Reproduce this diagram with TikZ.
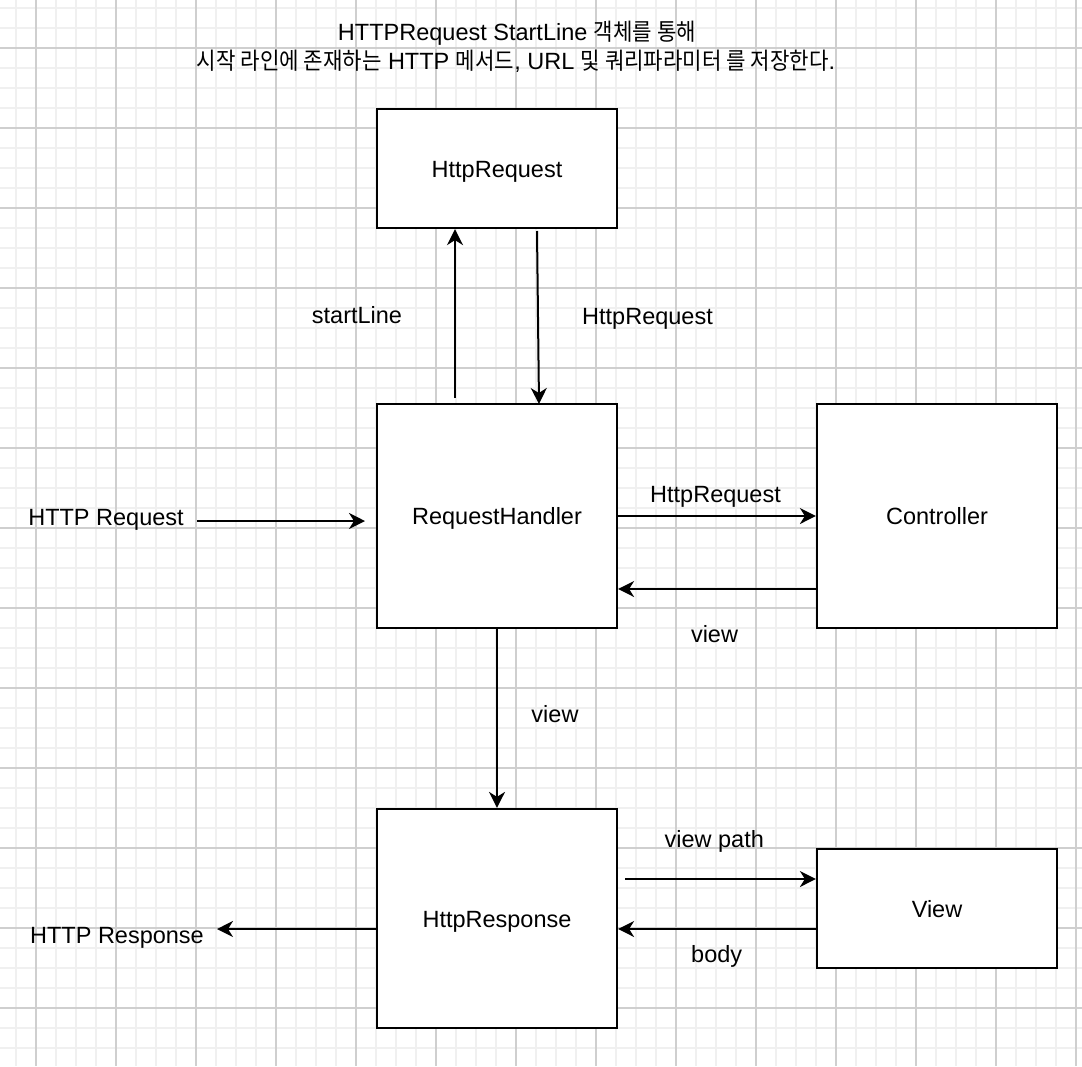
\documentclass[tikz,border=0pt]{standalone}
\usepackage{fontspec}
\setmainfont{Liberation Sans}
\newfontfamily\cjk[FakeStretch=0.9]{Noto Sans CJK KR}
\usetikzlibrary{arrows.meta}
\newcommand{\fsz}{\fontsize{23.5}{28}\selectfont}
\begin{document}
\begin{tikzpicture}[x=1pt,y=-1pt,
  minorgrid/.style={draw=black!6, line width=1.6pt},
  majorgrid/.style={draw=black!19, line width=1.4pt},
  box/.style={draw=black, line width=2.2pt, fill=white, minimum width=240pt, inner sep=0pt, font=\fsz, text height=17pt, text depth=0pt},
  lbl/.style={inner sep=0pt, font=\fsz, text height=17pt, text depth=0pt},
  ttl/.style={inner sep=0pt, font=\fsz, anchor=base},
  arr/.style={line width=2pt, -{Stealth[length=16pt,width=16pt,inset=5pt]}},
  ]
\fill[white] (0,0) rectangle (1082,1066);
\useasboundingbox (0,0) rectangle (1082,1066);
% grid
\foreach \x in {16,36,...,1076} \draw[minorgrid] (\x,0) -- (\x,1066);
\foreach \y in {8,28,...,1064} \draw[minorgrid] (0,\y) -- (1082,\y);
\foreach \x in {36,116,...,1076} \draw[majorgrid] (\x,0) -- (\x,1066);
\foreach \y in {48,128,...,1064} \draw[majorgrid] (0,\y) -- (1082,\y);

% title
\node[ttl] (title1) at (517,40) {HTTPRequest StartLine {\cjk 객체를 통해}};
\node[ttl] (title2) at (516,69) {{\cjk 시작 라인에 존재하는} HTTP {\cjk 메서드}, URL {\cjk 및 쿼리파라미터 를 저장한다}.};

% boxes
\node[box, minimum height=119pt] (hreq) at (497,168.5) {HttpRequest};
\node[box, minimum height=224pt] (rh) at (497,516) {RequestHandler};
\node[box, minimum height=224pt] (ctrl) at (937,516) {Controller};
\node[box, minimum height=219pt] (resp) at (497,918.5) {HttpResponse};
\node[box, minimum height=119pt] (view) at (937,908.5) {View};

% labels
\node[lbl] (lstart) at (357,315) {startLine};
\node[lbl] (lhreq2) at (647.5,315.8) {HttpRequest};
\node[lbl] (lin) at (106,516.5) {HTTP Request};
\node[lbl] (lhreq3) at (715.5,494.2) {HttpRequest};
\node[lbl] (lview1) at (714.5,634.2) {view};
\node[lbl] (lview2) at (555,714.2) {view};
\node[lbl] (lvpath) at (714.3,838.8) {view path};
\node[lbl] (lbody) at (716.7,954.2) {body};
\node[lbl] (lout) at (117,934.8) {HTTP Response};

% connector end points
\coordinate (s1) at (455,398);
\coordinate (s2) at (537,231);
\coordinate (t2) at (539,404);
\coordinate (inA) at (197,521);
\coordinate (inB) at (365,521);
\coordinate (y589) at (0,589);
\coordinate (y929) at (0,929);
\coordinate (outB) at (217,929);
\coordinate (vpA) at (625,879);

% connectors
\draw[arr] (s1) -- (s1 |- hreq.south);
\draw[arr] (s2) -- (t2);
\draw[arr] (inA) -- (inB);
\draw[arr] (rh.east) -- (ctrl.west);
\draw[arr] (ctrl.west |- y589) -- (rh.east |- y589);
\draw[arr] (rh.south) -- (resp.north);
\draw[arr] (resp.west |- y929) -- (outB);
\draw[arr] (vpA) -- (view.west |- vpA);
\draw[arr] (view.west |- y929) -- (resp.east |- y929);
\end{tikzpicture}
\end{document}
